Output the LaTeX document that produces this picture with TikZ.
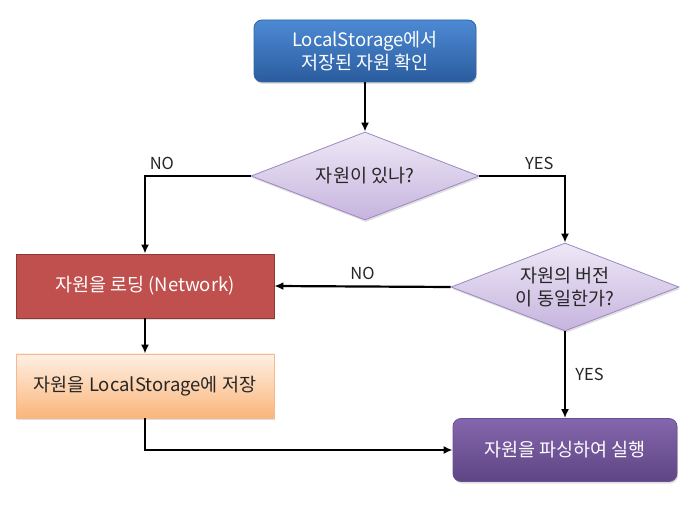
\documentclass[tikz,border=0pt]{standalone}
\usepackage{fontspec}
\setmainfont{Noto Sans CJK KR}
\usepackage{tikz}
\usetikzlibrary{arrows.meta,shapes.geometric,shadows}

\definecolor{startTop}{HTML}{4D8AD4}
\definecolor{startBot}{HTML}{2A5C9E}
\definecolor{startLine}{HTML}{3465A0}
\definecolor{askTop}{HTML}{EEE8F6}
\definecolor{askBot}{HTML}{C6B4DE}
\definecolor{askLine}{HTML}{9C87C2}
\definecolor{loadFill}{HTML}{C0504D}
\definecolor{loadLine}{HTML}{8C3836}
\definecolor{saveTop}{HTML}{FEF0E4}
\definecolor{saveBot}{HTML}{FBB57A}
\definecolor{saveLine}{HTML}{F7B98C}
\definecolor{runTop}{HTML}{8466AC}
\definecolor{runBot}{HTML}{5E4584}
\definecolor{runLine}{HTML}{6A5190}
\definecolor{txt}{HTML}{262626}

\begin{document}
\begin{tikzpicture}[
		x=1pt, y=-1pt,
		font=\fontsize{18.5}{23}\selectfont,
		basic/.style  = {draw, line width=0.8pt, inner sep=0pt, align=center,
			drop shadow={opacity=0.25, shadow xshift=1pt, shadow yshift=-2pt}},
		start/.style  = {basic, rounded corners=8pt, text=white, draw=startLine,
			top color=startTop, bottom color=startBot, minimum width=222pt, minimum height=62pt},
		ask/.style    = {basic, diamond, shape aspect=2.6, text=txt, draw=askLine,
			top color=askTop, bottom color=askBot, minimum width=228pt, minimum height=88pt},
		load/.style   = {basic, text=white, draw=loadLine, fill=loadFill,
			minimum width=258pt, minimum height=64pt},
		save/.style   = {basic, text=txt, draw=saveLine,
			top color=saveTop, bottom color=saveBot, minimum width=258pt, minimum height=64pt},
		run/.style    = {basic, rounded corners=8pt, text=white, draw=runLine,
			top color=runTop, bottom color=runBot, minimum width=224pt, minimum height=63pt},
		arr/.style    = {-{Latex[length=9pt,width=8pt]}, line width=2.2pt, black},
		lbl/.style    = {text=txt, font=\fontsize{16.5}{20}\selectfont},
		>=latex]
		
		\useasboundingbox (0,0) rectangle (697,513);
		
		% steps and questions
		\node[start] (check) at (365,51) {LocalStorage에서\\저장된 자원 확인};
		\node[ask] (has) at (365,176) {자원이 있나?};
		\node[ask] (same) at (565,287) {자원의 버전\\이 동일한가?};
		\node[load] (load) at (145,286) {자원을 로딩 (Network)};
		\node[save] (save) at (145,386) {자원을 LocalStorage에 저장};
		\node[run] (run) at (565,450) {자원을 파싱하여 실행};
		
		% connectors
		\draw[arr] (check) -- (has);
		\draw[arr] (has.west) -| node[lbl, pos=0.42, above=2pt] {NO} (load.north);
		\draw[arr] (has.east) -| node[lbl, pos=0.35, above=2pt] {YES} (same.north);
		\draw[arr] (same.west) -- node[lbl, midway, above=2pt] {NO} (load.east);
		\draw[arr] (same.south) -- node[lbl, midway, right=6pt] {YES} (run.north);
		\draw[arr] (load) -- (save);
		\draw[arr] (save.south) |- (run.west);
		
	\end{tikzpicture}
\end{document}
